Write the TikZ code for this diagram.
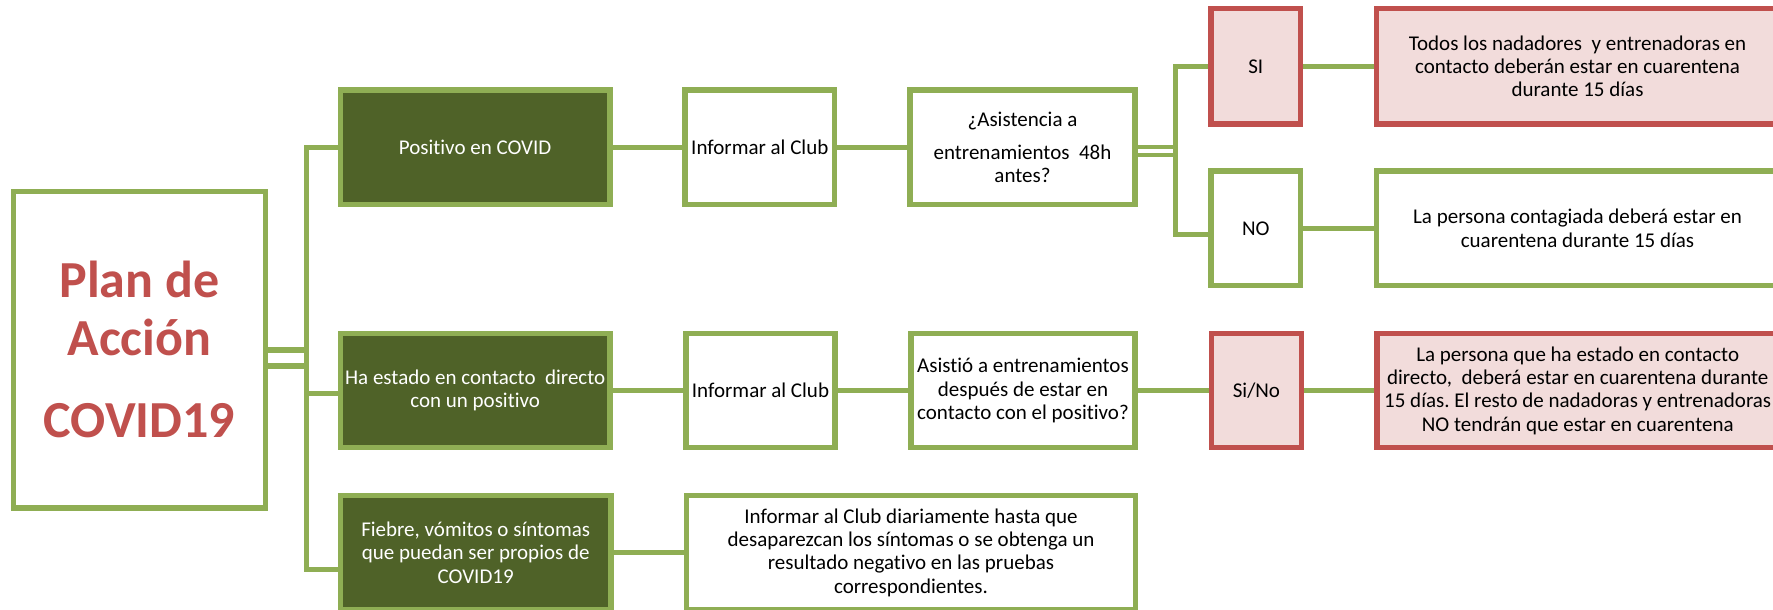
\documentclass[tikz,border=0pt]{standalone}
\usepackage{fontspec}
\setmainfont{Carlito}[Ligatures=NoCommon]
\frenchspacing
\usetikzlibrary{calc,backgrounds}
\definecolor{lg}{HTML}{8FAE54}
\definecolor{dg}{HTML}{4F6228}
\definecolor{rd}{HTML}{C0504D}
\definecolor{pk}{HTML}{F2DCDB}
\tikzset{
  bx/.style={draw=lg, line width=5.3pt, inner sep=0pt, outer sep=0pt, align=center,
             font=\fontsize{21}{23.3}\selectfont},
  boxG/.style={bx, fill=white, text=black},
  boxD/.style={bx, fill=dg, text=white},
  boxR/.style={bx, draw=rd, fill=pk, text=black},
  conn/.style={draw=lg, line width=5pt, line join=miter},
}
\begin{document}
\begin{tikzpicture}[x=1pt,y=-1pt]
\useasboundingbox (0,0) rectangle (1773,610);
\clip (0,0) rectangle (1773,610);

% column 1
\node[bx, fill=white, text=rd, minimum width=252pt, minimum height=316.7pt,
      font=\fontsize{52}{58}\selectfont\bfseries] (plan) at (139.35,349.7)
      {Plan de\\Acción\\[24pt]COVID19};

% column 2
\node[boxD, minimum width=269.5pt, minimum height=114.7pt] (positivo) at (475.1,147.3) {Positivo en COVID};
\node[boxD, minimum width=269.7pt, minimum height=114.3pt] (hae) at (475.2,390.5) {Ha estado en contacto\ \ directo\\con un positivo};
\node[boxD, minimum width=270.7pt, minimum height=114.7pt] (fiebre) at (475.7,552.7) {Fiebre, vómitos o síntomas\\que puedan ser propios de\\COVID19};

% column 3
\node[boxG, minimum width=149.7pt, minimum height=114.7pt] (inf1) at (759.8,147.3) {Informar al Club};
\node[boxG, minimum width=149.1pt, minimum height=114.3pt] (inf2) at (760.5,390.5) {Informar al Club};
\node[boxG, minimum width=448.7pt, minimum height=114.7pt] (infd) at (911,552.7) {Informar al Club diariamente hasta que\\desaparezcan los síntomas o se obtenga un\\resultado negativo en las pruebas\\correspondientes.};

% column 4
\node[boxG, minimum width=225.1pt, minimum height=114.7pt] (asis) at (1022.5,147.3) {¿Asistencia a\\[9.3pt]entrenamientos\ \ 48h\\antes?};
\node[boxG, minimum width=224.1pt, minimum height=114.3pt] (asistio) at (1023,390.5) {Asistió a entrenamientos\\después de estar en\\contacto con el positivo?};

% column 5
\node[boxR, minimum width=89.7pt, minimum height=115.4pt] (si) at (1255.8,66.3) {SI};
\node[boxG, minimum width=89.7pt, minimum height=114.7pt] (no) at (1255.8,228.3) {NO};
\node[boxR, minimum width=89.9pt, minimum height=114.3pt] (sino) at (1256.4,390.5) {Si/No};

% column 6
\node[boxR, minimum width=401.7pt, minimum height=115.4pt] (todos) at (1577.5,66.3) {Todos los nadadores\ \ y entrenadoras en\\contacto deberán estar en cuarentena\\durante 15 días};
\node[boxG, minimum width=401.7pt, minimum height=114.7pt] (contagiada) at (1577.5,228.3) {La persona contagiada deberá estar en\\cuarentena durante 15 días};
\node[boxR, minimum width=401.2pt, minimum height=114.3pt] (lapersona) at (1577.7,390.5) {La persona que ha estado en contacto\\directo,\ \ deberá estar en cuarentena durante\\15 días. El resto de nadadoras y entrenadoras\\NO tendrán que estar en cuarentena};

% bus coordinates
\coordinate (b1top) at (306,147.3);
\coordinate (b1a) at (306,350);
\coordinate (b1b) at (306,366);
\coordinate (b1mid) at (306,393.5);
\coordinate (b1bot) at (306,569);
\coordinate (b2top) at (1175.8,66.3);
\coordinate (b2a) at (1178,147);
\coordinate (b2b) at (1178,154.7);
\coordinate (b2bot) at (1175.8,234.5);

\begin{scope}[on background layer]
  % left hierarchy
  \draw[conn, line width=5.8pt] (plan.east |- b1a) -- (b1a);
  \draw[conn, line width=5.8pt] (plan.east |- b1b) -- (b1b);
  \draw[conn] (positivo.west) -- (b1top) -- (b1bot) -- (fiebre.west |- b1bot);
  \draw[conn] (b1mid) -- (hae.west |- b1mid);
  % rows
  \draw[conn] (positivo.east) -- (inf1.west);
  \draw[conn] (inf1.east) -- (asis.west);
  \draw[conn] (hae.east) -- (inf2.west);
  \draw[conn] (inf2.east) -- (asistio.west);
  \draw[conn] (asistio.east) -- (sino.west);
  \draw[conn] (sino.east) -- (lapersona.west);
  \draw[conn] (fiebre.east) -- (infd.west);
  % right hierarchy
  \draw[conn, line width=4pt] (asis.east |- b2a) -- (b2a);
  \draw[conn, line width=4pt] (asis.east |- b2b) -- (b2b);
  \draw[conn] (si.west) -- (b2top) -- (b2bot) -- (no.west |- b2bot);
  \draw[conn] (si.east) -- (todos.west);
  \draw[conn] (no.east) -- (contagiada.west);
\end{scope}
\end{tikzpicture}
\end{document}
